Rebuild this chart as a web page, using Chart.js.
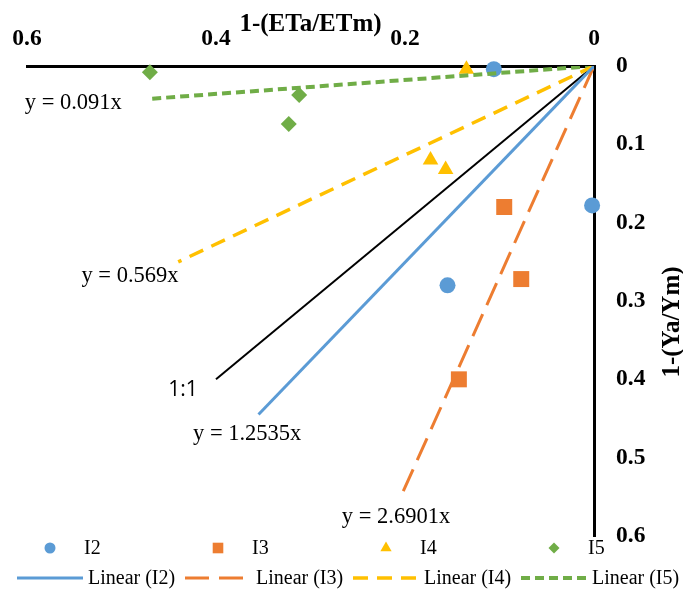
<!DOCTYPE html>
<html lang="en">
<head>
<meta charset="UTF-8">
<title>1-(Ya/Ym) vs 1-(ETa/ETm)</title>
<script src="https://cdn.jsdelivr.net/npm/chart.js"></script>
<style>
  html, body { margin: 0; padding: 0; background: #fff; }
  #chart { display: block; }
</style>
</head>
<body>
<canvas id="chart" width="683" height="590"></canvas>
<script>
// values: x = 1-(ETa/ETm), y = 1-(Ya/Ym)
var i2X = [0.106, 0.002, 0.155];
var i2Y = [0.004, 0.178, 0.280];
var i3X = [0.095, 0.077, 0.143];
var i3Y = [0.180, 0.272, 0.400];
var i4X = [0.135, 0.173, 0.157];
var i4Y = [0.004, 0.120, 0.132];
var i5X = [0.470, 0.312, 0.323];
var i5Y = [0.008, 0.037, 0.074];

// trend lines: from the origin to where each one stops on the figure
var fitI2X = [0, 0.355], fitI2Y = [0, 0.445];
var fitI3X = [0, 0.203], fitI3Y = [0, 0.546];
var fitI4X = [0, 0.440], fitI4Y = [0, 0.250];
var fitI5X = [0, 0.471], fitI5Y = [0, 0.042];
var oneX = [0, 0.4], oneY = [0, 0.4];

var xTicks = [0, 0.2, 0.4, 0.6];
var xTickLabels = ['0', '0.2', '0.4', '0.6'];
var yTicks = [0, 0.1, 0.2, 0.3, 0.4, 0.5, 0.6];
var yTickLabels = ['0', '0.1', '0.2', '0.3', '0.4', '0.5', '0.6'];

// equation labels, placed in data units
var noteText = ['y = 0.091x', 'y = 0.569x', '1:1', 'y = 1.2535x', 'y = 2.6901x'];
var noteX = [0.551, 0.491, 0.435, 0.367, 0.2095];
var noteY = [0.047, 0.268, 0.414, 0.470, 0.576];

var pointNames = ['I2', 'I3', 'I4', 'I5'];
var lineNames = ['Linear (I2)', 'Linear (I3)', 'Linear (I4)', 'Linear (I5)'];

var blue = '#5B9BD5', orange = '#ED7D31', yellow = '#FFC000', green = '#70AD47';

function pts(xs, ys) {
    return xs.map(function (x, i) { return { x: x, y: ys[i] }; });
}

function marker(ctx, style, x, y, r) {
    ctx.beginPath();
    if (style === 'circle') {
        ctx.arc(x, y, r, 0, Math.PI * 2);
    } else if (style === 'rect') {
        var s = r * Math.SQRT1_2;
        ctx.rect(x - s, y - s, 2 * s, 2 * s);
    } else if (style === 'triangle') {
        ctx.moveTo(x, y - r);
        ctx.lineTo(x + r * 0.866, y + r * 0.5);
        ctx.lineTo(x - r * 0.866, y + r * 0.5);
        ctx.closePath();
    } else {
        ctx.moveTo(x - r, y);
        ctx.lineTo(x, y - r);
        ctx.lineTo(x + r, y);
        ctx.lineTo(x, y + r);
        ctx.closePath();
    }
    ctx.fill();
}

// equation labels, y axis title and the two-row legend
var extras = {
    id: 'extras',
    afterDraw: function (chart) {
        var ctx = chart.ctx;
        var sx = chart.scales.x, sy = chart.scales.y;
        var sets = chart.data.datasets;
        ctx.save();
        ctx.fillStyle = '#000';
        ctx.textAlign = 'center';
        ctx.textBaseline = 'middle';
        noteText.forEach(function (t, i) {
            ctx.font = t === '1:1' ? '21px "Open Sans"' : '22.5px "Liberation Serif"';
            ctx.fillText(t, sx.getPixelForValue(noteX[i]), sy.getPixelForValue(noteY[i]));
        });

        ctx.save();
        ctx.translate(673, 322);
        ctx.rotate(-Math.PI / 2);
        ctx.font = 'bold 25px "Liberation Serif"';
        ctx.fillText('1-(Ya/Ym)', 0, 0);
        ctx.restore();

        var legendR = [5.5, 7.5, 6.5, 5.5];
        ctx.font = '20px "Liberation Serif"';
        ctx.textAlign = 'left';
        for (var i = 0; i < 4; i++) {
            var x0 = 17 + i * 168;
            var p = sets[i], l = sets[i + 4];
            ctx.fillStyle = p.backgroundColor;
            marker(ctx, p.pointStyle, x0 + 33, 548, legendR[i]);
            ctx.fillStyle = '#000';
            ctx.fillText(pointNames[i], x0 + 67, 549);

            ctx.save();
            ctx.strokeStyle = l.borderColor;
            ctx.lineWidth = l.borderWidth;
            ctx.setLineDash(l.borderDash || []);
            ctx.beginPath();
            ctx.moveTo(x0, 578);
            ctx.lineTo(x0 + 66, 578);
            ctx.stroke();
            ctx.restore();
            ctx.fillText(lineNames[i], x0 + 71, 579);
        }
        ctx.restore();
    }
};

function pointSet(label, xs, ys, color, style, r) {
    return {
        label: label, data: pts(xs, ys), backgroundColor: color, borderColor: color,
        pointStyle: style, pointRadius: r, pointHoverRadius: r, pointBorderWidth: 0,
        showLine: false, clip: false, order: 2
    };
}

function lineSet(label, xs, ys, color, width, dash) {
    return {
        label: label, data: pts(xs, ys), borderColor: color, backgroundColor: color,
        borderWidth: width, borderDash: dash, borderCapStyle: 'butt',
        pointRadius: 0, showLine: true, order: 1
    };
}

var ctx = document.getElementById('chart').getContext('2d');
var chart = new Chart(ctx, {
    type: 'scatter',
    data: {
        datasets: [
            pointSet('I2', i2X, i2Y, blue, 'circle', 8),
            pointSet('I3', i3X, i3Y, orange, 'rect', 11.3),
            pointSet('I4', i4X, i4Y, yellow, 'triangle', 9),
            pointSet('I5', i5X, i5Y, green, 'rectRot', 8),
            lineSet('Linear (I2)', fitI2X, fitI2Y, blue, 3, []),
            lineSet('Linear (I3)', fitI3X, fitI3Y, orange, 3, [24, 10]),
            lineSet('Linear (I4)', fitI4X, fitI4Y, yellow, 3.5, [15, 9]),
            lineSet('Linear (I5)', fitI5X, fitI5Y, green, 4, [9, 5]),
            lineSet('1:1', oneX, oneY, '#000', 2, [])
        ]
    },
    options: {
        responsive: false,
        animation: false,
        layout: { padding: { left: 27, top: 0, right: 0, bottom: 54 } },
        plugins: {
            legend: { display: false },
            tooltip: { enabled: false }
        },
        scales: {
            x: {
                type: 'linear', position: 'top', reverse: true, min: 0, max: 0.6,
                grid: { display: false },
                border: { display: true, color: '#000', width: 3 },
                afterBuildTicks: function (s) { s.ticks = xTicks.map(function (v) { return { value: v }; }); },
                afterFit: function (s) { s.height = 66; s.paddingLeft = 0; s.paddingRight = 0; },
                ticks: {
                    color: '#000', padding: 5, maxRotation: 0,
                    font: { family: 'Liberation Serif', size: 23.5, weight: 'bold' },
                    callback: function (v) { return xTickLabels[xTicks.indexOf(v)]; }
                },
                title: {
                    display: true, text: '1-(ETa/ETm)', color: '#000',
                    padding: { top: 10, bottom: 0 },
                    font: { family: 'Liberation Serif', size: 25, weight: 'bold' }
                }
            },
            y: {
                type: 'linear', position: 'right', reverse: true, min: 0, max: 0.6,
                grid: { display: false },
                border: { display: true, color: '#000', width: 3 },
                afterBuildTicks: function (s) { s.ticks = yTicks.map(function (v) { return { value: v }; }); },
                afterFit: function (s) { s.width = 89; s.paddingTop = 0; s.paddingBottom = 0; },
                ticks: {
                    color: '#000', padding: 14,
                    font: { family: 'Liberation Serif', size: 23.5, weight: 'bold' },
                    callback: function (v) { return yTickLabels[yTicks.indexOf(v)]; }
                }
            }
        }
    },
    plugins: [extras]
});
</script>
</body>
</html>
